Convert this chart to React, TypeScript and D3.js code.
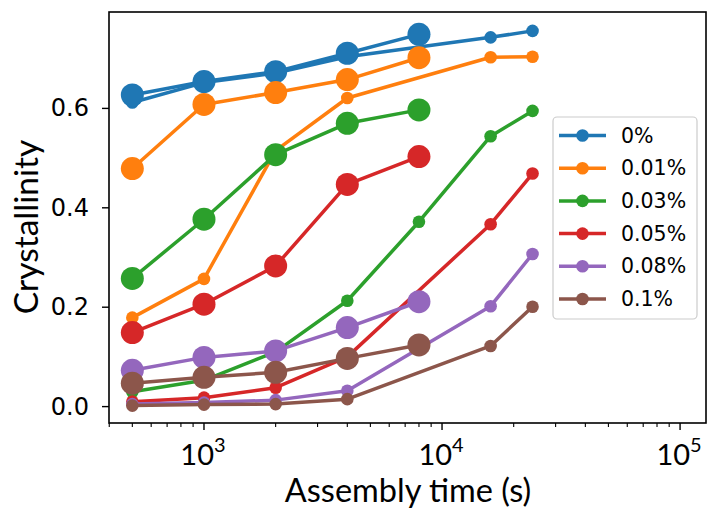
import React from "react";
import * as d3 from "d3";

// Assembly times (s)
const longTimes = [500, 1000, 2000, 4000, 8000, 16000, 24000];
const shortTimes = [500, 1000, 2000, 4000, 8000];

const seriesLabels = ["0%", "0.01%", "0.03%", "0.05%", "0.08%", "0.1%"];
const seriesColors = ["#1f77b4", "#ff7f0e", "#2ca02c", "#d62728", "#9467bd", "#8c564b"];

// Crystallinity, short runs (large markers)
const short0 = [0.627, 0.654, 0.674, 0.711, 0.749];
const short001 = [0.479, 0.608, 0.632, 0.658, 0.702];
const short003 = [0.258, 0.377, 0.507, 0.57, 0.597];
const short005 = [0.149, 0.206, 0.283, 0.447, 0.503];
const short008 = [0.073, 0.099, 0.112, 0.159, 0.211];
const short01 = [0.047, 0.059, 0.069, 0.097, 0.124];

// Crystallinity, long runs (small markers); null = not measured
const long0 = [0.612, 0.652, 0.671, 0.704, null, 0.743, 0.756];
const long001 = [0.179, 0.257, 0.515, 0.621, null, 0.703, 0.704];
const long003 = [0.03, 0.053, 0.11, 0.213, 0.372, 0.544, 0.595];
const long005 = [0.01, 0.018, 0.038, 0.1, null, 0.367, 0.469];
const long008 = [0.005, 0.008, 0.013, 0.032, null, 0.202, 0.307];
const long01 = [0.002, 0.004, 0.005, 0.015, null, 0.122, 0.201];

const shortSeries = [short0, short001, short003, short005, short008, short01];
const longSeries = [long0, long001, long003, long005, long008, long01];

const yTicks = [0, 0.2, 0.4, 0.6];
const xMajor = [1e3, 1e4, 1e5];
const xExponents = ["3", "4", "5"];

const W = 708;
const H = 512;
const left = 109;
const right = 706;
const top = 12;
const bottom = 423;

const x = d3.scaleLog().domain([399, 128500]).range([left, right]);
const y = d3.scaleLinear().domain([-0.033, 0.794]).range([bottom, top]);

const line = d3
  .line<[number, number]>()
  .x((d) => x(d[0]))
  .y((d) => y(d[1]));

const minorTicks: number[] = [];
for (const base of [100, 1000, 10000]) {
  for (let k = 2; k <= 9; k++) {
    const v = base * k;
    if (v >= 399 && v <= 128500) minorTicks.push(v);
  }
}

const labelFont = "Lato, 'Open Sans', sans-serif";
const tickFont = "'DejaVu Sans', sans-serif";

export default function App() {
  const lw = 3.5;
  const bigR = 11.5;
  const smallR = 6.3;
  const legendX = 553;
  const legendY = 117;
  const legendW = 144;
  const legendH = 202;
  const rowH = 32.7;

  return (
    <svg
      width={W}
      height={H}
      style={{ position: "absolute", left: 0, top: 0, background: "#fff" }}
    >
      <rect x={0} y={0} width={W} height={H} fill="#fff" />

      {seriesColors.map((c, i) => {
        const longPts = longTimes
          .map((t, j) => [t, longSeries[i][j]] as [number, number | null])
          .filter((p) => p[1] !== null) as [number, number][];
        const shortPts = shortTimes.map((t, j) => [t, shortSeries[i][j]] as [number, number]);
        return (
          <g key={i}>
            <path d={line(longPts) || ""} fill="none" stroke={c} strokeWidth={lw} strokeLinejoin="round" />
            {longPts.map((p, j) => (
              <circle key={"l" + j} cx={x(p[0])} cy={y(p[1])} r={smallR} fill={c} />
            ))}
            <path d={line(shortPts) || ""} fill="none" stroke={c} strokeWidth={lw} strokeLinejoin="round" />
            {shortPts.map((p, j) => (
              <circle key={"s" + j} cx={x(p[0])} cy={y(p[1])} r={bigR} fill={c} />
            ))}
          </g>
        );
      })}

      {/* frame */}
      <rect x={left} y={top} width={right - left} height={bottom - top} fill="none" stroke="#000" strokeWidth={1.6} />

      {/* y axis */}
      {yTicks.map((t) => (
        <g key={t}>
          <line x1={left - 7} x2={left} y1={y(t)} y2={y(t)} stroke="#000" strokeWidth={1.4} />
          <text
            x={left - 20}
            y={y(t)}
            textAnchor="end"
            dominantBaseline="central"
            fontFamily={tickFont}
            fontSize={24}
            fill="#000"
          >
            {t.toFixed(1)}
          </text>
        </g>
      ))}

      {/* x axis */}
      {minorTicks.map((t) => (
        <line key={t} x1={x(t)} x2={x(t)} y1={bottom} y2={bottom + 4} stroke="#000" strokeWidth={1.1} />
      ))}
      {xMajor.map((t, i) => (
        <g key={t}>
          <line x1={x(t)} x2={x(t)} y1={bottom} y2={bottom + 7} stroke="#000" strokeWidth={1.4} />
          <text x={x(t) - 1} y={465} textAnchor="middle" fontFamily={labelFont} fontSize={29} fill="#000">
            10
            <tspan dy={-13} fontSize={20}>
              {xExponents[i]}
            </tspan>
          </text>
        </g>
      ))}

      <text x={408} y={502} textAnchor="middle" fontFamily={labelFont} fontSize={32.5} fill="#000">
        Assembly time (s)
      </text>
      <text
        transform={`translate(38, 227) rotate(-90)`}
        textAnchor="middle"
        fontFamily={labelFont}
        fontSize={33.5}
        fill="#000"
      >
        Crystallinity
      </text>

      {/* legend */}
      <rect
        x={legendX}
        y={legendY}
        width={legendW}
        height={legendH}
        rx={4}
        fill="#fff"
        fillOpacity={0.8}
        stroke="#cccccc"
        strokeWidth={1.2}
      />
      {seriesLabels.map((lab, i) => {
        const cy = legendY + 18.5 + i * rowH;
        return (
          <g key={lab}>
            <line x1={559} x2={606} y1={cy} y2={cy} stroke={seriesColors[i]} strokeWidth={lw} />
            <circle cx={582.5} cy={cy} r={smallR} fill={seriesColors[i]} />
            <text x={621} y={cy} dominantBaseline="central" fontFamily={tickFont} fontSize={20.5} fill="#000">
              {lab}
            </text>
          </g>
        );
      })}
    </svg>
  );
}
